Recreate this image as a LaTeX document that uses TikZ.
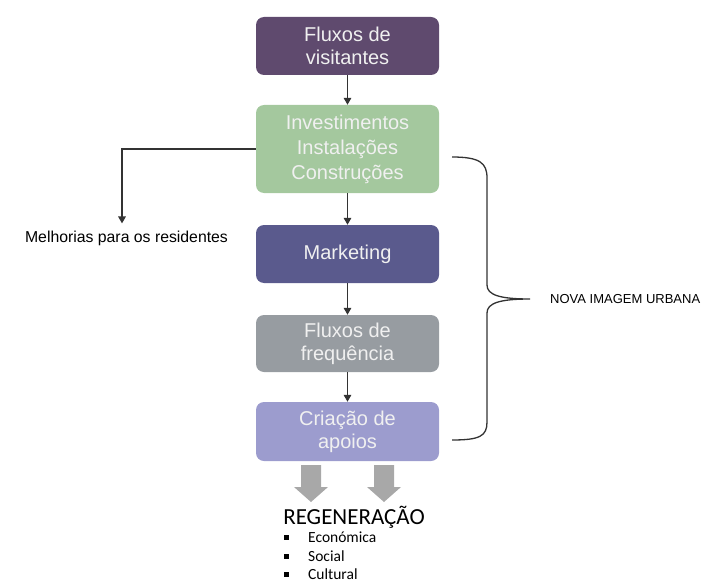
\documentclass[tikz,border=0pt]{standalone}
\usepackage{fontspec}
\setmainfont{Liberation Sans}
\newfontfamily\calibri{Carlito}
\usetikzlibrary{arrows.meta}
\definecolor{visit}{HTML}{5F4A6E}
\definecolor{invest}{HTML}{A4C89E}
\definecolor{mkt}{HTML}{5A5A8D}
\definecolor{freq}{HTML}{979CA1}
\definecolor{apoio}{HTML}{9C9CCE}
\definecolor{ink}{HTML}{333333}
\definecolor{block}{HTML}{A8A8A8}

\begin{document}
\begin{tikzpicture}[
  x=1pt,y=1pt,font=\fontsize{20}{23}\selectfont,
  stage/.style={rounded corners=8pt,minimum width=183pt,align=center,
    text=white!94!black,inner sep=2pt},
  flow/.style={draw=ink,line width=1.6pt,-{Triangle[length=7pt,width=7.5pt]}},
  side/.style={font=\fontsize{15.8}{18}\selectfont,inner sep=0pt},
  item/.style={anchor=west,font=\calibri\fontsize{15.5}{18}\selectfont,inner sep=0pt}
]
\path[use as bounding box] (0,0) rectangle (703,-583);
\node[stage,fill=visit,minimum height=58pt] (visit) at (347.5,-46) {Fluxos de\\visitantes};
\node[stage,fill=invest,minimum height=88pt,font=\fontsize{20}{25}\selectfont]
  (invest) at (347.5,-149) {Investimentos\\Instalações\\Construções};
\node[stage,fill=mkt,minimum height=58pt] (mkt) at (347.5,-254) {Marketing};
\node[stage,fill=freq,minimum height=57pt] (freq) at (347.5,-343.5) {Fluxos de\\frequência};
\node[stage,fill=apoio,minimum height=59pt] (apoio) at (347.5,-431.5) {Criação de\\apoios};
\draw[flow] (visit) -- (invest);
\draw[flow] (invest) -- (mkt);
\draw[flow] (mkt) -- (freq);
\draw[flow] (freq) -- (apoio);

% melhorias a esquerda
\node[side] (melhorias) at (126.5,-238) {Melhorias para os residentes};
\draw[flow,shorten >=7pt] (invest.west) -| ([xshift=-4.5pt]melhorias.north);

% chaveta
\draw[ink,line width=1.3pt] (452,-157) .. controls (480,-157) and (487,-163) .. (487,-178)
  -- (487,-285) .. controls (487,-295) and (500,-299) .. (530,-299)
  .. controls (500,-299) and (487,-303) .. (487,-313)
  -- (487,-422) .. controls (487,-436) and (480,-440) .. (452,-440);
\node[side,anchor=west,font=\fontsize{13}{15}\selectfont] (imagem) at (550,-299) {NOVA IMAGEM URBANA};

% setas largas
\foreach \ax in {311,384}
  \fill[block] (\ax-10,-465) -- (\ax+10,-465) -- (\ax+10,-487) -- (\ax+17,-487)
    -- (\ax,-502) -- (\ax-17,-487) -- (\ax-10,-487) -- cycle;

\node[font=\calibri\fontsize{23}{26}\selectfont,inner sep=0pt] (regen) at (354,-517) {REGENERAÇÃO};
\node[item] (eco) at (308,-537) {Económica};
\node[item] (soc) at (308,-556) {Social};
\node[item] (cult) at (308,-574) {Cultural};
\foreach \n in {eco,soc,cult}
  \fill ([xshift=-24pt,yshift=-2.5pt]\n.west) rectangle ++(5,5);
\end{tikzpicture}
\end{document}
